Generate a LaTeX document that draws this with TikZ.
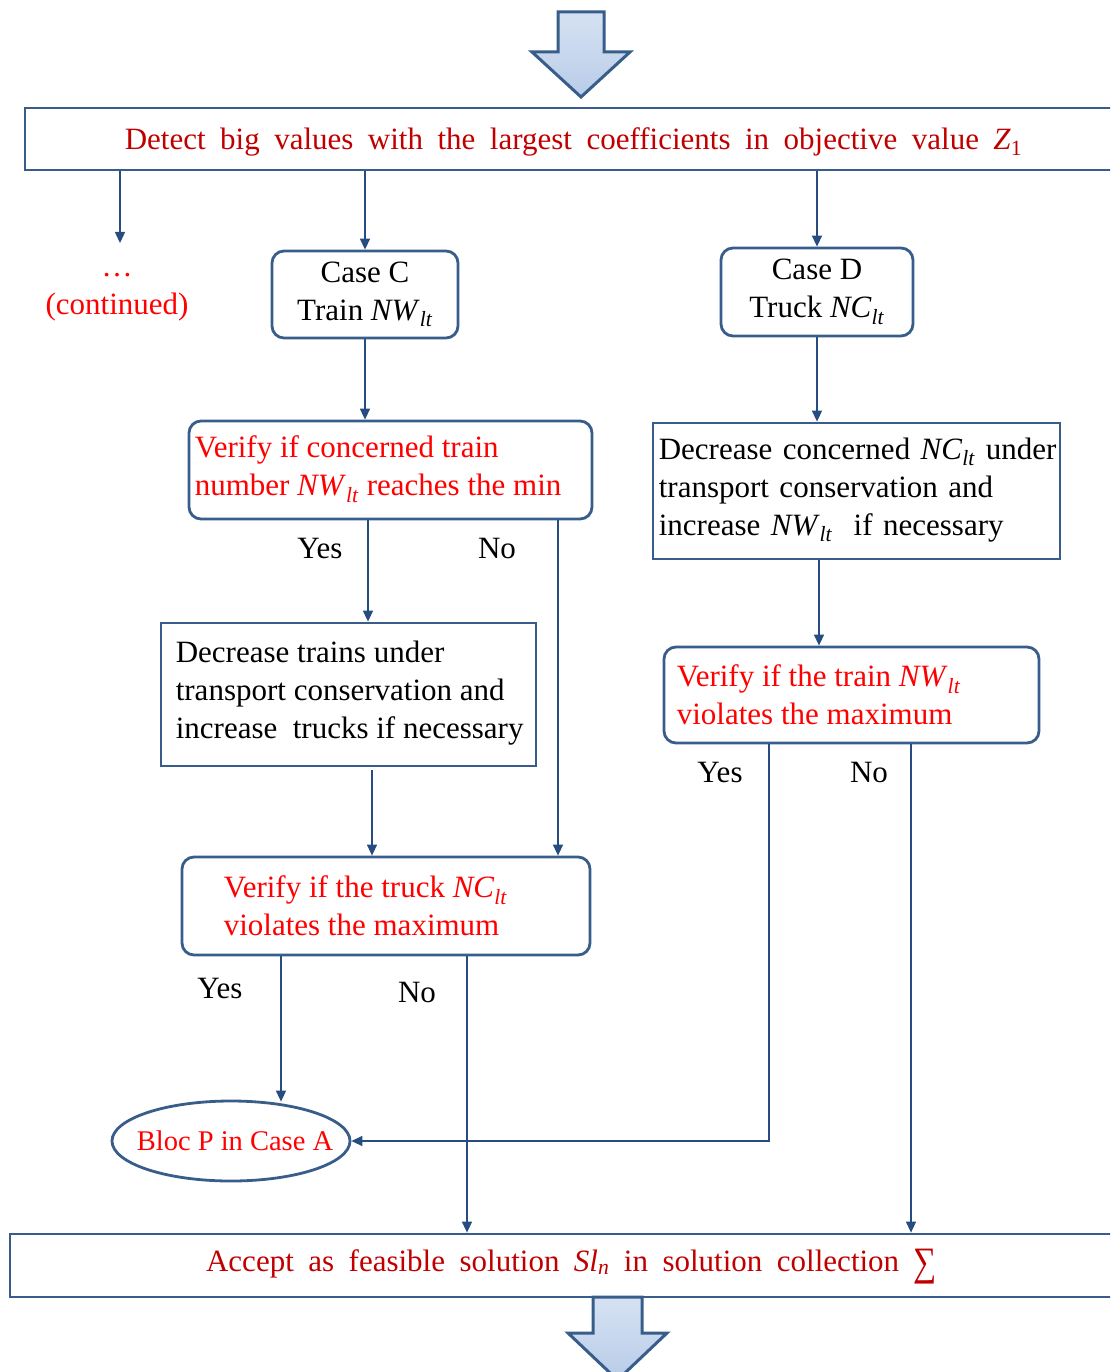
\documentclass[tikz,border=0pt]{standalone}
\usepackage{fontspec}
\setmainfont{Liberation Serif}
\usetikzlibrary{shapes.geometric,arrows.meta}
\definecolor{bordc}{RGB}{56,93,138}
\definecolor{connc}{RGB}{38,76,130}
\definecolor{darkr}{RGB}{192,0,0}
\definecolor{brred}{RGB}{255,0,0}
\definecolor{arrfillA}{RGB}{214,226,243}
\definecolor{arrfillB}{RGB}{184,204,232}
\newcommand{\vNW}{\textit{NW}\textsubscript{\textit{lt}}}
\newcommand{\vNC}{\textit{NC}\textsubscript{\textit{lt}}}
\newcommand{\widesp}{\spaceskip=14.5pt plus 1pt\relax}
\newcommand{\midsp}{\spaceskip=10.5pt plus 1pt\relax}
\tikzset{
  sbox/.style={draw=bordc, line width=2.8pt, inner sep=0pt},
  rbox/.style={sbox, rounded corners=12pt},
  txt/.style={inner sep=0pt, align=left, anchor=west},
  lbl/.style={inner sep=0pt},
  conn/.style={draw=connc, line width=1.5pt, -{Triangle[width=10pt,length=11pt]}},
  blockarrow/.style={draw=bordc, line width=3pt, top color=arrfillA, bottom color=arrfillB}
}
\begin{document}
\begin{tikzpicture}[x=1pt,y=-1pt,font=\fontsize{31}{38}\selectfont]
\useasboundingbox (0,0) rectangle (1110,1372);
\begin{scope}
\clip (0,0) rectangle (1110,1372);
% block arrows
\path[blockarrow] (558,12) -- (604,12) -- (604,52) -- (630,52) -- (581,97) -- (532,52) -- (558,52) -- cycle;
\path[blockarrow] (593,1297) -- (642,1297) -- (642,1333) -- (667,1333) -- (617.5,1380) -- (568,1333) -- (593,1333) -- cycle;
% top and bottom boxes
\node[sbox, minimum width=1097pt, minimum height=62pt] (top) at (573.5,139) {};
\node[sbox, minimum width=1123pt, minimum height=63pt] (bot) at (571.5,1265.5) {};
\end{scope}
\node[lbl, anchor=base, text=darkr] (topT) at (573.5,150)
  {\widesp Detect big values with the largest coefficients in objective value \textit{Z}\textsubscript{1}};
\node[lbl, anchor=base, text=darkr] (botT) at (571.5,1271)
  {\widesp Accept as feasible solution \textit{Sl}\textsubscript{\textit{n}} in solution collection \raisebox{-4pt}{\scalebox{1.05}[1.3]{∑}}};
% continued
\node[lbl, text=brred, align=center] (cont) at (117,297) {…\\(continued)};
\coordinate (kC) at (120,243);
% case boxes
\node[rbox, minimum width=186pt, minimum height=87pt, align=center] (caseC) at (365,294.5) {Case C\\Train \vNW};
\node[rbox, minimum width=192pt, minimum height=88pt, align=center] (caseD) at (817,292) {Case D\\Truck \vNC};
% verify train
\node[rbox, minimum width=403pt, minimum height=98pt] (vt) at (390.5,470) {};
\node[txt, text=brred] (vtT) at ([xshift=7pt,yshift=1pt]vt.west) {Verify if concerned train\\number \vNW{} reaches the min};
% decrease concerned
\node[sbox, minimum width=407pt, minimum height=136pt] (dc) at (856.5,491) {};
\node[txt] (dcT) at ([xshift=7pt,yshift=1pt]dc.west) {\midsp Decrease concerned \vNC{} under\\\midsp transport conservation and\\\midsp increase \vNW{}\ \ if necessary};
% decrease trains
\node[sbox, minimum width=375pt, minimum height=143pt] (dt) at (348.5,694.5) {};
\node[txt] (dtT) at ([xshift=16pt,yshift=1pt]dt.west) {Decrease trains under\\transport conservation and\\increase\ \ trucks if necessary};
% verify NW
\node[rbox, minimum width=375pt, minimum height=96pt] (vnw) at (851.5,695) {};
\node[txt, text=brred] (vnwT) at ([xshift=14pt]vnw.west) {Verify if the train \vNW\\violates the maximum};
% verify truck
\node[rbox, minimum width=408pt, minimum height=98pt] (vtr) at (386,906) {};
\node[txt, text=brred] (vtrT) at ([xshift=43pt]vtr.west) {Verify if the truck \vNC\\violates the maximum};
% ellipse
\node[ellipse, draw=bordc, line width=2.8pt, minimum width=238pt, minimum height=80pt, inner sep=0pt] (bloc) at (231,1141) {};
\node[lbl, text=brred, font=\fontsize{28.5}{34}\selectfont] (blocT) at ([xshift=4pt]bloc.center) {Bloc P in Case A};
% labels
\node[lbl] (y1) at (320,548) {Yes};
\node[lbl] (n1) at (497,548) {No};
\node[lbl] (y2) at (720,772) {Yes};
\node[lbl] (n2) at (869,772) {No};
\node[lbl] (y3) at (220,988) {Yes};
\node[lbl] (n3) at (417,992) {No};
% x positions of connectors
\coordinate (kVtY) at (368,0);
\coordinate (kVtN) at (558,0);
\coordinate (kDt) at (372,0);
\coordinate (kDc) at (819,0);
\coordinate (kNY) at (769,0);
\coordinate (kNN) at (911,0);
\coordinate (kTY) at (281,0);
\coordinate (kTN) at (467,0);
% connectors
\draw[conn] (top.south -| kC) -- (kC);
\draw[conn] (top.south -| caseC.north) -- (caseC.north);
\draw[conn] (top.south -| caseD.north) -- (caseD.north);
\draw[conn] (caseC.south) -- (vt.north -| caseC.south);
\draw[conn] (caseD.south) -- (dc.north -| caseD.south);
\draw[conn] (vt.south -| kVtY) -- (dt.north -| kVtY);
\draw[conn] (vt.south -| kVtN) -- (vtr.north -| kVtN);
\draw[conn] ([yshift=-3pt]dt.south -| kDt) -- (vtr.north -| kDt);
\draw[conn] (dc.south -| kDc) -- (vnw.north -| kDc);
\draw[conn] (vnw.south -| kNY) |- (bloc.east);
\draw[conn] (vnw.south -| kNN) -- (bot.north -| kNN);
\draw[conn, shorten >=-2pt] (vtr.south -| kTY) -- (bloc.north -| kTY);
\draw[conn] (vtr.south -| kTN) -- (bot.north -| kTN);
\end{tikzpicture}
\end{document}
